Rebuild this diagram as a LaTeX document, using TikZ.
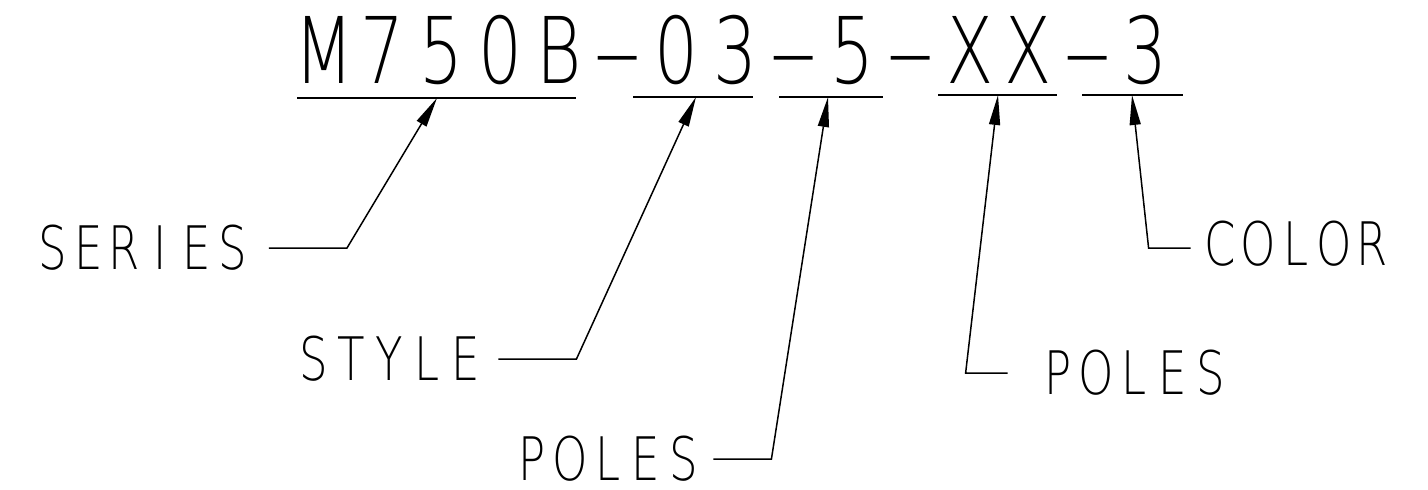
\documentclass[tikz,border=0pt]{standalone}
\usepackage{fontspec}
\usepackage{graphicx}
\usetikzlibrary{arrows.meta}
\newfontfamily\cadfont{DejaVuSans-ExtraLight.ttf}[FakeStretch=0.75]

% every glyph in a box of fixed width, like a CAD stroke font
\makeatletter
\newcommand\pitched[2]{\@tfor\pitchch:=#2\do{\makebox[#1]{\pitchch}}}
\makeatother
\newcommand\cadDash{\scalebox{1.4}[1]{\textendash}}

\begin{document}
\begin{tikzpicture}[
    x=0.5pt, y=-0.5pt,
    partno/.style={font=\cadfont\fontsize{46}{46}\selectfont, inner sep=0pt, anchor=base},
    field/.style={font=\cadfont\fontsize{30}{30}\selectfont, inner sep=0pt, anchor=base},
    uline/.style={line width=0.7pt},
    leader/.style={line width=0.75pt, -{Triangle[length=15pt,width=5.5pt]}},
]
\useasboundingbox (0,0) rectangle (1428,490);

% Part number
\node[partno] (partno) at (735,84)
    {\pitched{29.35pt}{M750B\cadDash03\cadDash5\cadDash XX\cadDash3}};

% Underlines of the fields
\draw[uline] (297,98) -- (576,98);
\draw[uline] (633,97) -- (753,97);
\draw[uline] (779,97) -- (883,97);
\draw[uline] (938,95) -- (1057,95);
\draw[uline] (1082,95) -- (1183,95);

\coordinate (tipSeries) at (437,98);
\coordinate (tipStyle)  at (696,97);
\coordinate (tipPolesA) at (828,97);
\coordinate (tipPolesB) at (998,95);
\coordinate (tipColor)  at (1132,95);

% Field names
\node[field] (series) at (142.5,270) {\pitched{18pt}{SERIES}};
\node[field] (style)  at (389.5,381) {\pitched{19pt}{STYLE}};
\node[field] (polesA) at (608,481)   {\pitched{19pt}{POLES}};
\node[field] (polesB) at (1134.5,395) {\pitched{19pt}{POLES}};
\node[field] (color)  at (1296.5,266) {\pitched{19pt}{COLOR}};

% Leaders
\draw[leader] ([xshift=9pt]series.east) -- ++(78,0) -- (tipSeries);
\draw[leader] ([xshift=6.75pt]style.east) -- ++(78,0) -- (tipStyle);
\draw[leader] ([xshift=5pt]polesA.east) -- ++(58,0) -- (tipPolesA);
\draw[leader] ([xshift=-15.75pt]polesB.west) -- ++(-42,0) -- (tipPolesB);
\draw[leader] ([xshift=-5.25pt,yshift=-2pt]color.west) -- ++(-42,0) -- (tipColor);

\end{tikzpicture}
\end{document}
